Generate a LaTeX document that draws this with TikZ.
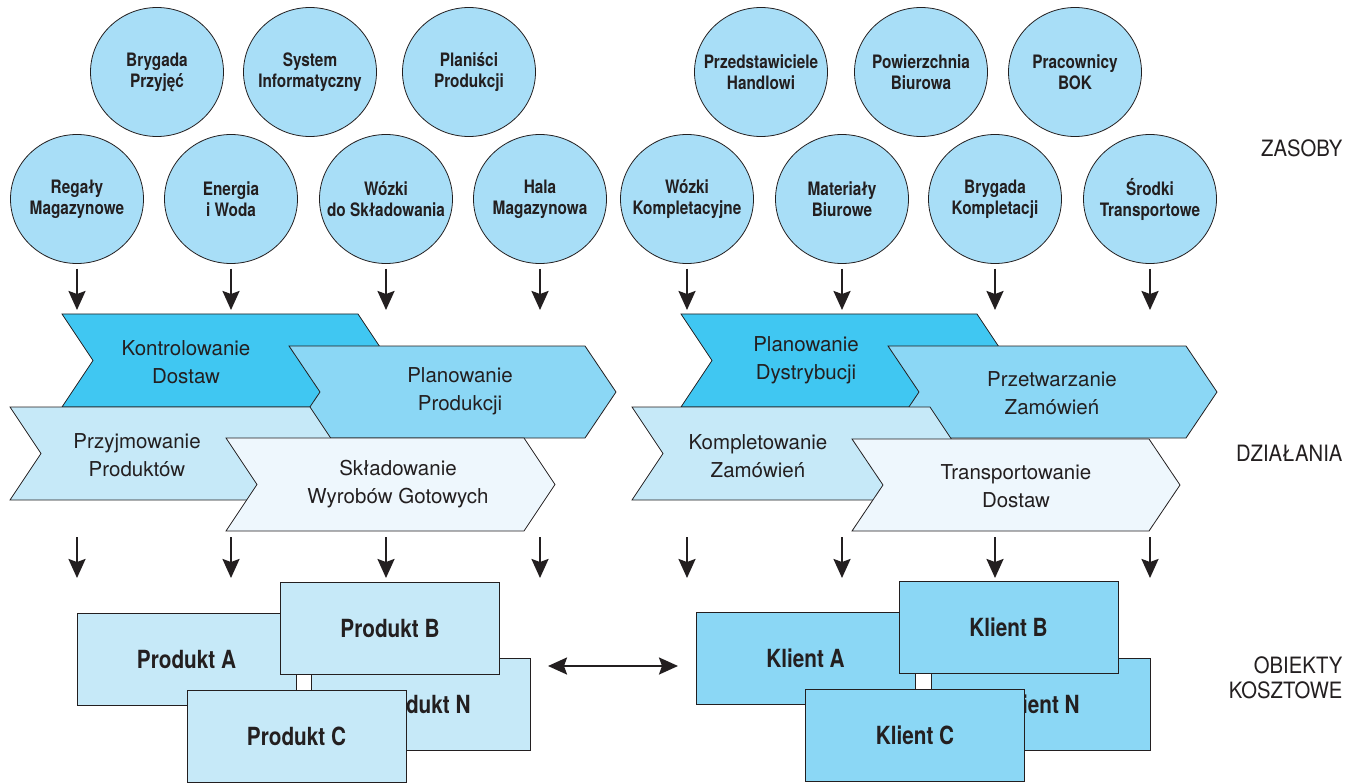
\documentclass[tikz,border=0pt]{standalone}
\usepackage{fontspec}
\setmainfont{TeX Gyre Heros}
\newfontfamily\condfont{TeX Gyre Heros}[FakeStretch=0.83]
\newfontfamily\narrowfont{TeX Gyre Heros}[FakeStretch=0.9]
\usepackage[svgnames]{xcolor}
\usepackage{tikz}
\usetikzlibrary{arrows.meta}
\usetikzlibrary{shapes.geometric}
\usetikzlibrary{positioning}

\definecolor{resblue}{HTML}{A8DEF7}
\definecolor{actdark}{HTML}{40C7F2}
\definecolor{actmid}{HTML}{8BD7F5}
\definecolor{actlight}{HTML}{C6E9F8}
\definecolor{actpale}{HTML}{EEF7FD}
\definecolor{ink}{HTML}{231F20}

% left, top, width, height, fill
\newcommand{\chevron}[5]{%
  \draw [draw=ink, line width=0.8pt, fill=#5] (#1,#2) -- ++(#3,0) -- ++(31,#4/2)
    -- ++(-31,#4/2) -- ++(-#3,0) -- ++(31,-#4/2) -- cycle;}

\begin{document}
\begin{tikzpicture}
      [x=1pt, y=-1pt,
       every node/.style={align=center},
       >={Stealth[length=19pt,width=17pt,inset=3pt]},
       res/.style={ellipse, draw=ink, line width=0.8pt, fill=resblue,
         minimum width=133pt, minimum height=129pt, inner xsep=-30pt, inner ysep=0pt,
         text=ink, font=\condfont\bfseries\fontsize{18.5}{21}\selectfont},
       acttxt/.style={text=ink, font=\fontsize{20.5}{28}\selectfont},
       obj/.style={rectangle, draw=ink, line width=0.8pt,
         minimum width=219pt, minimum height=92pt,
         text=ink, font=\condfont\bfseries\fontsize{25}{30}\selectfont},
       lbl/.style={anchor=east, align=right, text=ink,
         font=\narrowfont\fontsize{22.5}{25}\selectfont},
       arr/.style={->, draw=ink, fill=ink, line width=2.2pt}]
      \useasboundingbox (0,0) rectangle (1359,783);

      % zasoby
      \node (bp) [res] at (157, 72) {Brygada\\Przyjęć};
      \node (si) [res] at (310, 72) {System\\Informatyczny};
      \node (pp) [res] at (469, 72) {Planiści\\Produkcji};
      \node (rm) [res] at (77, 199) {Regały\\Magazynowe};
      \node (ew) [res] at (231, 199) {Energia\\i Woda};
      \node (ws) [res] at (386, 199) {Wózki\\do Składowania};
      \node (hm) [res] at (540, 199) {Hala\\Magazynowa};

      \node (ph) [res] at (761, 72) {Przedstawiciele\\Handlowi};
      \node (pw) [res] at (921, 72) {Powierzchnia\\Biurowa};
      \node (pb) [res] at (1075, 72) {Pracownicy\\BOK};
      \node (wk) [res] at (687, 199) {Wózki\\Kompletacyjne};
      \node (mb) [res] at (842, 199) {Materiały\\Biurowe};
      \node (bk) [res] at (995, 199) {Brygada\\Kompletacji};
      \node (st) [res] at (1150, 199) {Środki\\Transportowe};

      \coordinate (tipa) at (0, 310);
      \coordinate (taila) at (0, 537);
      \coordinate (tipb) at (0, 578);

      \draw [arr, shorten <=5pt] (rm.south) -- (rm.south |- tipa);
      \draw [arr, shorten <=5pt] (ew.south) -- (ew.south |- tipa);
      \draw [arr, shorten <=5pt] (ws.south) -- (ws.south |- tipa);
      \draw [arr, shorten <=5pt] (hm.south) -- (hm.south |- tipa);
      \draw [arr, shorten <=5pt] (wk.south) -- (wk.south |- tipa);
      \draw [arr, shorten <=5pt] (mb.south) -- (mb.south |- tipa);
      \draw [arr, shorten <=5pt] (bk.south) -- (bk.south |- tipa);
      \draw [arr, shorten <=5pt] (st.south) -- (st.south |- tipa);

      % dzialania
      \chevron{62}{314}{296}{93}{actdark}
      \chevron{289}{346}{296}{92}{actmid}
      \chevron{10}{407}{300}{93}{actlight}
      \chevron{226}{438}{298}{93}{actpale}

      \chevron{681}{314}{296}{93}{actdark}
      \chevron{888}{346}{298}{92}{actmid}
      \chevron{632}{407}{298}{93}{actlight}
      \chevron{852}{439}{297}{92}{actpale}

      \node (kd) [acttxt] at (186, 362) {Kontrolowanie\\Dostaw};
      \node (plp) [acttxt] at (460, 391) {Planowanie\\Produkcji};
      \node (prz) [acttxt] at (137, 455) {Przyjmowanie\\Produktów};
      \node (swg) [acttxt] at (398, 484) {Składowanie\\Wyrobów Gotowych};
      \node (pd) [acttxt] at (806, 360) {Planowanie\\Dystrybucji};
      \node (pz) [acttxt] at (1052, 393) {Przetwarzanie\\Zamówień};
      \node (kz) [acttxt] at (758, 456) {Kompletowanie\\Zamówień};
      \node (td) [acttxt] at (1016, 486) {Transportowanie\\Dostaw};

      \draw [arr] (rm |- taila) -- (rm |- tipb);
      \draw [arr] (ew |- taila) -- (ew |- tipb);
      \draw [arr] (ws |- taila) -- (ws |- tipb);
      \draw [arr] (hm |- taila) -- (hm |- tipb);
      \draw [arr] (wk |- taila) -- (wk |- tipb);
      \draw [arr] (mb |- taila) -- (mb |- tipb);
      \draw [arr] (bk |- taila) -- (bk |- tipb);
      \draw [arr] (st |- taila) -- (st |- tipb);

      % obiekty kosztowe
      \node (pra) [obj, fill=actlight] at (186.5, 659) {Produkt A};
      \node (prn) [obj, fill=actlight] at (421, 704.5) {Produkt N};
      \node (prb) [obj, fill=actlight] at (390, 628) {Produkt B};
      \node (prc) [obj, fill=actlight] at (296.5, 736) {Produkt C};

      \node (kla) [obj, fill=actmid] at (805.5, 658) {Klient A};
      \node (kln) [obj, fill=actmid] at (1040.5, 704.5) {Klient N};
      \node (klb) [obj, fill=actmid] at (1008.5, 627) {Klient B};
      \node (klc) [obj, fill=actmid] at (915, 735) {Klient C};

      \coordinate (lend) at (548, 666);
      \coordinate (rend) at (678, 666);
      \draw [arr, <->] (lend) -- (rend);

      % opisy
      \node (zas) [lbl] at (1346, 148) {ZASOBY};
      \node (dzi) [lbl] at (1346, 453) {DZIAŁANIA};
      \node (obk) [lbl] at (1346, 678) {OBIEKTY\\KOSZTOWE};
    \end{tikzpicture}
\end{document}
